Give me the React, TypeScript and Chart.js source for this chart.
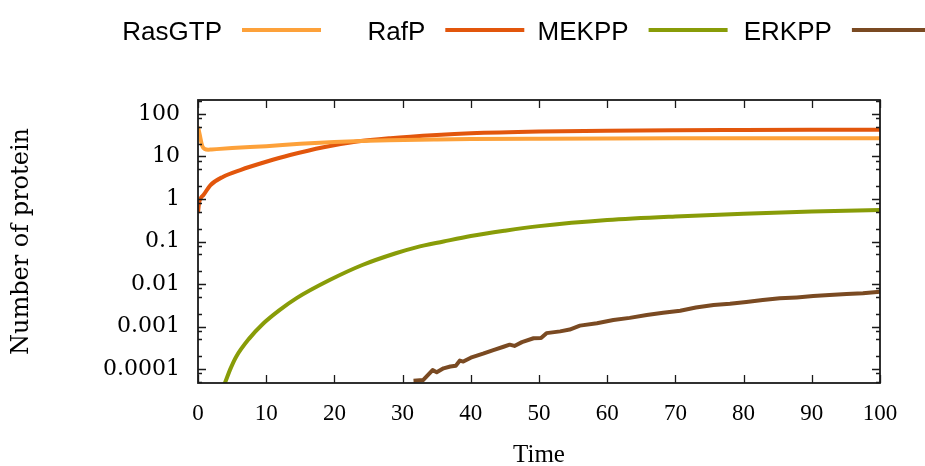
import React, { useEffect, useRef } from "react";
import { Chart, registerables } from "chart.js";

Chart.register(...registerables);

const seriesLabels = ["RasGTP", "RafP", "MEKPP", "ERKPP"];
const seriesColors = ["#fda13a", "#e2560c", "#889c08", "#7a4a22"];

const rasTime = [0, 0.3, 0.6, 1, 1.5, 2, 5, 10, 15, 20, 25, 28, 35, 40, 50, 60, 70, 80, 90, 100];
const rasValues = [50, 30, 18, 15, 14.4, 14.6, 15.8, 17.5, 19.8, 21.8, 23.5, 24.2, 25.2, 25.7, 26.2, 26.5, 26.7, 26.8, 26.9, 27];

const rafTime = [0, 0.15, 0.4, 0.8, 1.8, 3.7, 6.2, 10, 13.5, 18.4, 23.3, 28.2, 35, 40, 50, 60, 70, 80, 90, 100];
const rafValues = [0.47, 0.8, 1.05, 1.24, 2.1, 3.35, 4.8, 7.5, 10.8, 16.5, 22.5, 27, 32, 35, 38.5, 40.5, 41.5, 42, 42.3, 42.5];

const mekTime = [3.9, 4.8, 5.6, 7.5, 9.5, 11.9, 14.4, 19.3, 24.1, 29, 32, 36, 40, 45, 50, 60, 70, 80, 90, 100];
const mekValues = [4.5e-5, 1.05e-4, 1.95e-4, 5.2e-4, 1.15e-3, 2.4e-3, 4.6e-3, 0.0124, 0.028, 0.053, 0.073, 0.1, 0.135, 0.18, 0.23, 0.32, 0.39, 0.45, 0.505, 0.55];

const erkTime = [31.6, 33.0, 34.4, 35.0, 36.0, 37.0, 37.8, 38.4, 38.9, 40.0, 41.8, 43.3, 44.8, 45.7, 46.4, 47.5, 49.2, 50.3, 51.1, 53.1, 54.5, 56.0, 58.5, 60.9, 63.3, 65.8, 68.2, 70.7, 73.0, 75.6, 78.0, 80.4, 82.8, 85.3, 87.8, 90.2, 92.6, 95.1, 97.5, 100];
const erkValues = [5.3e-5, 5.5e-5, 9.5e-5, 8.4e-5, 1.04e-4, 1.15e-4, 1.2e-4, 1.58e-4, 1.5e-4, 1.85e-4, 2.3e-4, 2.8e-4, 3.35e-4, 3.75e-4, 3.5e-4, 4.3e-4, 5.3e-4, 5.4e-4, 7.0e-4, 7.7e-4, 8.5e-4, 1.05e-3, 1.2e-3, 1.42e-3, 1.6e-3, 1.87e-3, 2.1e-3, 2.36e-3, 2.8e-3, 3.2e-3, 3.45e-3, 3.8e-3, 4.2e-3, 4.6e-3, 4.85e-3, 5.2e-3, 5.5e-3, 5.8e-3, 6.1e-3, 6.6e-3];

const xTicks = [0, 10, 20, 30, 40, 50, 60, 70, 80, 90, 100];
const yTicks = [0.0001, 0.001, 0.01, 0.1, 1, 10, 100];
const yTickLabels = ["0.0001", "0.001", "0.01", "0.1", "1", "10", "100"];
const yMinorFactors = [2, 5, 8];

const toPoints = (t: number[], v: number[]) => t.map((x, i) => ({ x, y: v[i] }));

const legendPlugin = {
  id: "gnuLegend",
  afterDraw(chart: any) {
    const ctx = chart.ctx;
    ctx.save();
    ctx.font = '26px "Liberation Sans", Arial, sans-serif';
    ctx.textAlign = "right";
    ctx.textBaseline = "alphabetic";
    chart.data.datasets.forEach((ds: any, i: number) => {
      const start = 242 + i * 203.3;
      ctx.fillStyle = "#000";
      ctx.fillText(ds.label, start - 20, 40);
      ctx.strokeStyle = ds.borderColor;
      ctx.lineWidth = 4;
      ctx.beginPath();
      ctx.moveTo(start, 30);
      ctx.lineTo(start + 79, 30);
      ctx.stroke();
    });
    ctx.restore();
  },
};

const framePlugin = {
  id: "gnuFrame",
  afterDatasetsDraw(chart: any) {
    const { ctx, chartArea: a, scales } = chart;
    const xs = scales.x;
    const ys = scales.y;
    ctx.save();
    ctx.strokeStyle = "#1a1a1a";
    ctx.lineWidth = 1.3;
    ctx.beginPath();
    xTicks.forEach((t) => {
      const px = Math.round(xs.getPixelForValue(t)) + 0.5;
      ctx.moveTo(px, a.bottom);
      ctx.lineTo(px, a.bottom - 8);
      ctx.moveTo(px, a.top);
      ctx.lineTo(px, a.top + 8);
    });
    yTicks.forEach((v) => {
      const py = Math.round(ys.getPixelForValue(v)) + 0.5;
      ctx.moveTo(a.left, py);
      ctx.lineTo(a.left + 8, py);
      ctx.moveTo(a.right, py);
      ctx.lineTo(a.right - 8, py);
    });
    const decades = [0.00001, ...yTicks];
    decades.forEach((d) => {
      yMinorFactors.forEach((f) => {
        const v = d * f;
        if (v < ys.min || v > ys.max) return;
        const py = Math.round(ys.getPixelForValue(v)) + 0.5;
        ctx.moveTo(a.left, py);
        ctx.lineTo(a.left + 4, py);
        ctx.moveTo(a.right, py);
        ctx.lineTo(a.right - 4, py);
      });
    });
    ctx.stroke();
    ctx.lineWidth = 1.8;
    ctx.strokeRect(a.left, a.top, a.right - a.left, a.bottom - a.top);
    ctx.restore();
  },
};

export default function App() {
  const canvasRef = useRef<HTMLCanvasElement | null>(null);

  useEffect(() => {
    document.body.style.margin = "0";
    const canvas = canvasRef.current;
    if (!canvas) return;
    const mk = (i: number, t: number[], v: number[], smooth: boolean) => ({
      label: seriesLabels[i],
      data: toPoints(t, v),
      borderColor: seriesColors[i],
      backgroundColor: seriesColors[i],
      borderWidth: 4,
      pointRadius: 0,
      fill: false,
      clip: 0,
      tension: 0,
      cubicInterpolationMode: smooth ? "monotone" : "default",
      borderJoinStyle: "round",
    });
    const chart = new Chart(canvas, {
      type: "line",
      data: {
        datasets: [
          mk(0, rasTime, rasValues, true),
          mk(1, rafTime, rafValues, true),
          mk(2, mekTime, mekValues, true),
          mk(3, erkTime, erkValues, false),
        ] as any,
      },
      options: {
        animation: false,
        responsive: true,
        maintainAspectRatio: false,
        parsing: false as any,
        layout: { padding: { top: 100, right: 45, left: 0, bottom: 0 } },
        plugins: {
          legend: { display: false },
          tooltip: { enabled: false },
        },
        scales: {
          x: {
            type: "linear",
            min: 0,
            max: 100,
            grid: { display: false, drawTicks: false },
            border: { display: false },
            afterBuildTicks: (s: any) => {
              s.ticks = xTicks.map((v) => ({ value: v }));
            },
            afterFit: (s: any) => {
              s.height = 83;
            },
            ticks: {
              color: "#000",
              padding: 17,
              maxRotation: 0,
              font: { family: '"Liberation Serif", "Times New Roman", serif', size: 23 },
            },
            title: {
              display: true,
              text: "Time",
              color: "#000",
              font: { family: '"Liberation Serif", "Times New Roman", serif', size: 25 },
              padding: { top: 0, bottom: -4 },
            },
          },
          y: {
            type: "logarithmic",
            min: 4.7e-5,
            max: 213,
            grid: { display: false, drawTicks: false },
            border: { display: false },
            afterBuildTicks: (s: any) => {
              s.ticks = yTicks.map((v) => ({ value: v }));
            },
            afterFit: (s: any) => {
              s.width = 198;
            },
            ticks: {
              color: "#000",
              padding: 18,
              callback: (v: any) => {
                const idx = yTicks.findIndex((t) => Math.abs(t - Number(v)) / t < 1e-6);
                return idx >= 0 ? yTickLabels[idx] : "";
              },
              font: { family: '"DejaVu Serif", serif', size: 22 },
            },
            title: {
              display: true,
              text: "Number of protein",
              color: "#000",
              font: { family: '"DejaVu Serif", serif', size: 24 },
              padding: { top: 7, bottom: 0 },
            },
          },
        },
      },
      plugins: [framePlugin, legendPlugin],
    });
    return () => chart.destroy();
  }, []);

  return (
    <div style={{ position: "absolute", left: 0, top: 0, width: 925, height: 466 }}>
      <canvas ref={canvasRef} />
    </div>
  );
}
